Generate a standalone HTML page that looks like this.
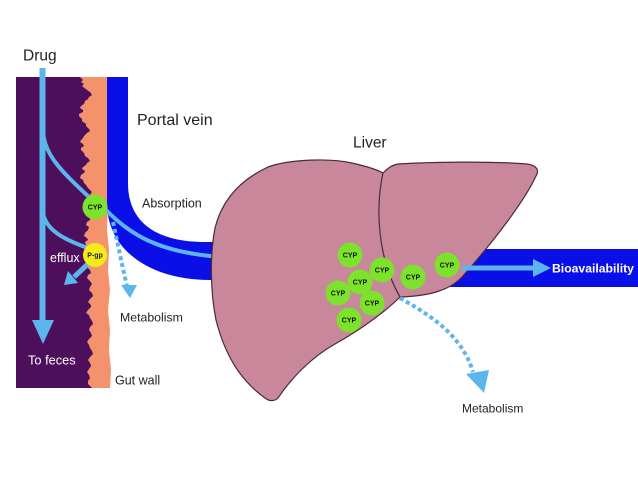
<!DOCTYPE html>
<html>
<head>
<meta charset="utf-8">
<style>
  html,body{margin:0;padding:0;background:#fff;}
  svg{display:block;}
  text{font-family:"Liberation Sans",Arial,sans-serif;}
</style>
</head>
<body>
<svg width="638" height="479" viewBox="0 0 638 479" xmlns="http://www.w3.org/2000/svg">
  <rect x="0" y="0" width="638" height="479" fill="#ffffff"/>

  <!-- Gut lumen (purple) -->
  <rect x="16" y="77" width="82" height="311" fill="#4d0e5c"/>

  <!-- Gut wall (orange) with jagged edge -->
  <path fill="#f3926c" d="M108,77 L80,77 L83,80 L81,82 L84,84 L82,86 L87,90 L90,92 L92,95 L89,97 L88,99 L85,101 L84,104 L81,106 L80,108 L83,110 L83,112 L79,114 L79,116 L82,119 L82,121 L86,124 L86,126 L89,129 L90,131 L87,133 L86,134 L84,136 L83,138 L81,140 L80,142 L83,144 L84,146 L81,148 L81,150 L84,153 L85,156 L88,158 L90,161 L87,163 L86,165 L83,167 L82,169 L85,171 L84,173 L81,175 L80,178 L83,180 L84,183 L86,185 L88,188 L90,190 L92,192 L89,196 L90,220 L87,222 L86,225 L89,227 L88,230 L85,233 L84,236 L87,238 L88,240 L85,242 L86,245 L88,268 L90,270 L91,273 L88,275 L87,278 L90,281 L92,284 L90,287 L89,290 L92,293 L93,296 L90,299 L88,302 L91,305 L91,307 L88,310 L86,313 L89,315 L90,318 L92,321 L93,324 L90,327 L89,330 L91,333 L92,336 L89,339 L87,342 L89,345 L90,348 L92,351 L93,354 L90,357 L88,360 L90,363 L91,366 L89,369 L87,372 L89,375 L90,378 L88,381 L88,384 L90,386 L92,388 L110,388 L111,370 L109,350 L110,330 L108,310 L110,290 L108,270 L109,250 L107,230 L108,200 L107,150 Z"/>

  <!-- Bioavailability bar -->
  <rect x="420" y="249" width="218" height="38" fill="#0a0fe8"/>

  <!-- Portal vein -->
  <path fill="#0a0fe8" d="M107,77 L128,77 L128,183 C128,225 160,242 205,242 L222,242 L222,280 L210,280 C150,280 107,250 107,203 Z"/>
  <path d="M105,209 C130,235 160,253 222,257" stroke="#5cb6ec" stroke-width="4" fill="none"/>

  <!-- Liver -->
  <path fill="#c9879c" stroke="#4a2c36" stroke-width="1.2" d="M215,228 C222,200 240,180 268,167 C290,159 330,158 352,163 C365,166 376,169 383,173 C388,168 392,165 398,164 C430,162 490,161 527,164 C536,165 540,170 536,176 C525,200 495,240 462,277 C450,290 430,296 400,297 C385,312 360,330 335,344 C310,358 290,380 278,398 C275,401 270,402 265,398 C240,380 225,355 216,320 C210,290 210,255 215,228 Z"/>
  <path d="M383,173 C376,205 376,255 400,297" stroke="#4a2c36" stroke-width="1.2" fill="none"/>

  <!-- Bioavailability arrow -->
  <line x1="462" y1="268" x2="535" y2="268" stroke="#5cb6ec" stroke-width="5"/>
  <polygon points="533,259 533,277 551,268" fill="#5cb6ec"/>

  <!-- Drug arrow and branches -->
  <line x1="42.5" y1="68" x2="42.5" y2="322" stroke="#5cb6ec" stroke-width="6"/>
  <polygon points="32,320 54,320 43,344" fill="#5cb6ec"/>
  <path d="M43,132 C45,155 60,170 90,198" stroke="#5cb6ec" stroke-width="4" fill="none"/>
  <path d="M43,212 C45,230 65,240 88,248" stroke="#5cb6ec" stroke-width="4" fill="none"/>

  <!-- Efflux arrow -->
  <line x1="89" y1="263" x2="74" y2="277" stroke="#5cb6ec" stroke-width="5"/>
  <polygon points="64,285 78,283 68,271" fill="#5cb6ec"/>

  <!-- Gut metabolism dotted arrow -->
  <path d="M113,222 C118,245 122,265 127,286" stroke="#5cb6ec" stroke-width="4" stroke-dasharray="4 3" fill="none"/>
  <polygon points="121,285 137,285 130,298" fill="#5cb6ec"/>

  <!-- Liver metabolism dotted arrow -->
  <path d="M400,298 C430,315 462,335 473,372" stroke="#5cb6ec" stroke-width="4" stroke-dasharray="4 3" fill="none"/>
  <polygon points="466,374 489,370 484,393" fill="#5cb6ec"/>

  <!-- Gut CYP and P-gp -->
  <circle cx="95" cy="207" r="12.5" fill="#7de22b"/>
  <text x="95" y="209.5" font-size="7" font-weight="bold" fill="#111" text-anchor="middle">CYP</text>
  <circle cx="95" cy="255" r="12" fill="#f5ea1a"/>
  <text x="95" y="257.5" font-size="7" font-weight="bold" fill="#222" text-anchor="middle">P-gp</text>

  <!-- Liver CYPs -->
  <g fill="#7de22b">
    <circle cx="350" cy="255" r="12.5"/>
    <circle cx="382" cy="270" r="12.5"/>
    <circle cx="360" cy="282" r="12.5"/>
    <circle cx="338" cy="293" r="12.5"/>
    <circle cx="372" cy="303" r="12.5"/>
    <circle cx="349" cy="320" r="12.5"/>
    <circle cx="413" cy="277" r="12.5"/>
    <circle cx="447" cy="265" r="12.5"/>
  </g>
  <g font-size="7" font-weight="bold" fill="#111" text-anchor="middle">
    <text x="350" y="257.5">CYP</text>
    <text x="382" y="272.5">CYP</text>
    <text x="360" y="284.5">CYP</text>
    <text x="338" y="295.5">CYP</text>
    <text x="372" y="305.5">CYP</text>
    <text x="349" y="322.5">CYP</text>
    <text x="413" y="279.5">CYP</text>
    <text x="447" y="267.5">CYP</text>
  </g>

  <!-- Labels -->
  <text x="23" y="60.5" font-size="15.5" fill="#222">Drug</text>
  <text x="137" y="125" font-size="16" fill="#222">Portal vein</text>
  <text x="353" y="147.5" font-size="15.5" fill="#222">Liver</text>
  <text x="142" y="207.5" font-size="12.5" fill="#222">Absorption</text>
  <text x="120" y="321.5" font-size="12.3" fill="#222">Metabolism</text>
  <text x="115" y="384.5" font-size="12.5" fill="#222">Gut wall</text>
  <text x="28" y="364.5" font-size="12.8" fill="#ffffff">To feces</text>
  <text x="50" y="262" font-size="12.5" fill="#ffffff">efflux</text>
  <text x="462" y="412.5" font-size="12" fill="#222">Metabolism</text>
  <text x="552" y="272.5" font-size="12.2" font-weight="bold" fill="#ffffff">Bioavailability</text>
</svg>
</body>
</html>
